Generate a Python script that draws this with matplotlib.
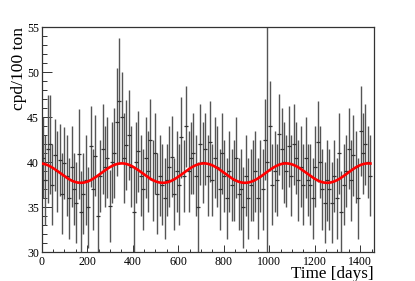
import numpy as np
import matplotlib
matplotlib.use("Agg")
import matplotlib.pyplot as plt
from matplotlib.ticker import MultipleLocator

# ---- data ----
bin_width = 10.5      # days per point
first_day = 5.0
values = [
    40.5, 38.0, 41.5, 42.0, 37.5, 40.8, 39.0, 40.3, 36.5, 39.9,
    38.5, 36.0, 39.5, 37.0, 35.5, 40.9, 34.5, 36.5, 38.0, 35.0,
    41.8, 37.0, 40.7, 34.0, 38.5, 41.5, 39.5, 40.5, 35.1, 40.0,
    41.0, 44.5, 46.8, 45.0, 40.5, 41.9, 43.0, 39.5, 34.5, 40.0,
    41.2, 38.5, 37.0, 40.5, 39.0, 42.5, 38.0, 41.0, 36.5, 38.5,
    37.5, 36.0, 38.0, 39.5, 40.6, 36.5, 39.0, 37.5, 42.8, 38.5,
    44.0, 39.0, 40.5, 41.0, 38.5, 35.0, 42.0, 40.0, 41.5, 38.5,
    42.3, 38.0, 40.5, 39.5, 37.0, 41.0, 38.5, 36.0, 39.0, 37.5,
    38.0, 40.5, 36.5, 37.0, 35.0, 38.5, 36.0, 37.5, 38.0, 39.0,
    36.0, 38.5, 37.0, 42.5, 40.0, 44.0, 37.5, 39.0, 38.0, 43.1,
    41.5, 40.0, 39.0, 41.8, 38.5, 42.0, 40.5, 38.0, 39.5, 37.5,
    40.5, 38.0, 37.5, 36.0, 39.5, 42.3, 40.0, 37.0, 35.5, 38.0,
    37.0, 35.5, 38.5, 36.0, 41.0, 34.5, 37.5, 39.0, 41.5, 38.0,
    40.8, 39.5, 36.0, 43.5, 41.0, 42.0, 40.0, 38.5,
]
errors = [
    4.5, 5.0, 6.0, 5.5, 4.5, 4.0, 4.5, 4.0, 4.5, 4.0,
    4.5, 4.5, 4.5, 4.0, 4.5, 5.0, 4.5, 4.5, 5.0, 4.5,
    4.5, 4.5, 4.5, 4.5, 4.0, 5.0, 4.5, 4.5, 4.0, 4.5,
    5.0, 6.0, 7.0, 5.0, 5.0, 5.0, 5.0, 4.5, 5.0, 4.5,
    4.5, 4.5, 4.5, 4.5, 4.5, 4.5, 4.5, 4.5, 4.5, 4.5,
    4.5, 4.5, 4.0, 4.5, 4.5, 4.0, 4.5, 4.5, 4.5, 4.0,
    4.5, 4.5, 4.0, 4.5, 4.5, 5.0, 4.5, 4.5, 4.0, 4.5,
    4.5, 4.0, 4.5, 4.5, 4.5, 4.5, 4.0, 4.5, 4.5, 4.0,
    4.5, 4.5, 4.0, 4.5, 4.5, 4.5, 4.5, 4.0, 4.5, 4.5,
    4.5, 4.0, 4.5, 4.5, 15.0, 5.0, 4.5, 4.5, 4.0, 4.5,
    4.5, 4.5, 4.0, 4.5, 4.5, 4.5, 4.0, 4.5, 4.5, 4.5,
    4.5, 4.0, 4.5, 4.5, 4.5, 4.5, 4.0, 4.5, 4.5, 4.5,
    4.5, 4.5, 4.0, 4.5, 4.5, 4.5, 4.5, 4.0, 4.5, 4.5,
    4.5, 4.0, 4.5, 5.0, 4.5, 4.5, 4.0, 4.5,
]
days = first_day + bin_width * np.arange(len(values))

# fit parameters of the red curve
fit_mean = 38.8
fit_amp = 1.08
fit_period = 361.0
fit_peak_day = 352.0
fit_end = 1445.0

# ---- figure ----
W, H = 415, 281
fig = plt.figure(figsize=(W / 100, H / 100), dpi=100)
ax = fig.add_axes([41.7 / W, 1 - 252.3 / H, (374.3 - 41.7) / W, (252.3 - 27.3) / H])

ax.errorbar(days, values, yerr=errors, fmt='_', color='#333333', ecolor='#555555',
            elinewidth=1.0, markersize=2.5, markeredgewidth=0.9, capsize=0, zorder=2)

t = np.linspace(0, fit_end, 600)
ax.plot(t, fit_mean + fit_amp * np.cos(2 * np.pi * (t - fit_peak_day) / fit_period),
        color='#ff0000', lw=1.9, zorder=3)

ax.set_xlim(0, 1462)
ax.set_ylim(30, 55)

for s in ax.spines.values():
    s.set_linewidth(0.9)
    s.set_color('#333333')

serif = ['Liberation Serif', 'DejaVu Serif']
ax.xaxis.set_major_locator(MultipleLocator(200))
ax.xaxis.set_minor_locator(MultipleLocator(50))
ax.yaxis.set_major_locator(MultipleLocator(5))
ax.yaxis.set_minor_locator(MultipleLocator(1))
ax.tick_params(axis='both', which='both', direction='in', top=False, right=False,
               color='#333333', width=0.7)
ax.tick_params(axis='y', which='major', length=7.2, pad=2.0)
ax.tick_params(axis='y', which='minor', length=3.6)
ax.tick_params(axis='x', which='major', length=4.9, pad=2.8)
ax.tick_params(axis='x', which='minor', length=2.5)
for lab in ax.get_xticklabels() + ax.get_yticklabels():
    lab.set_fontfamily(serif)
    lab.set_fontsize(8.6)

fig.text(373.5 / W, 1 - 278.5 / H, 'Time [days]', ha='right', va='baseline',
         fontsize=12.3, family=serif)
fig.text(19 / W, 1 - 27.5 / H, 'cpd/100 ton', ha='center', va='top', rotation=90,
         fontsize=12.6, family=serif)

fig.savefig('out.png', dpi=100)
